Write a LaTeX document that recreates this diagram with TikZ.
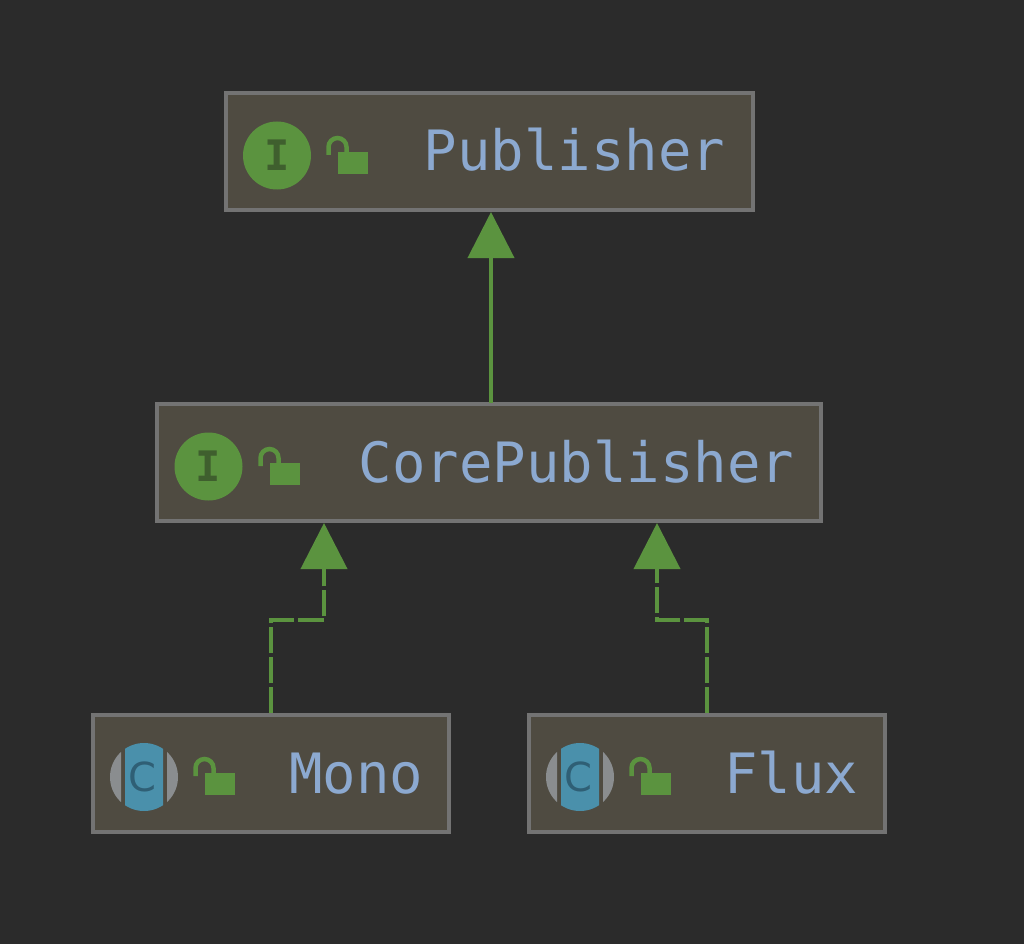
\documentclass[tikz,border=0pt]{standalone}
\usepackage{fontspec}
\usetikzlibrary{arrows.meta}
\newfontfamily\diagmono{DejaVu Sans Mono}
\newfontfamily\diagsans{DejaVu Sans}
\definecolor{bgdark}{HTML}{2B2B2B}
\definecolor{boxfill}{HTML}{4F4B41}
\definecolor{boxline}{HTML}{737373}
\definecolor{leaf}{HTML}{5B933F}
\definecolor{leafdark}{HTML}{3F5F2E}
\definecolor{classblue}{HTML}{4A90AB}
\definecolor{classdark}{HTML}{2F5F75}
\definecolor{bracketgrey}{HTML}{8A8D8F}
\definecolor{labelblue}{HTML}{8CA9D0}
\tikzset{
  x=1pt,y=-1pt,
  typebox/.style={draw=boxline,fill=boxfill,line width=3.5pt,minimum height=117pt,
    text width=#1,align=flush right,inner xsep=0pt,inner ysep=0pt,
    text height=39pt,text depth=0pt,text=labelblue,
    font=\diagmono\fontsize{55.6}{60}\selectfont},
  extends/.style={draw=leaf,line width=4pt,-{Triangle[length=46pt,width=46pt]}},
  implements/.style={extends,dash pattern=on 26pt off 4pt},
  iconletter/.style={inner sep=0pt,font=\diagmono\bfseries\fontsize{42}{46}\selectfont},
  classletter/.style={inner sep=0pt,font=\diagsans\fontsize{40}{44}\selectfont},
  pics/lockicon/.style={code={
    \fill[leaf] (0,0) rectangle (30,22);
    \draw[leaf,line width=4.5pt] (-9.5,3) -- (-9.5,-5) arc[start angle=180,end angle=0,radius=9pt] -- (8.5,0);
  }},
  pics/ifaceicon/.style={code={
    \fill[leaf] (0,0) circle[radius=34pt];
    \node[iconletter,text=leafdark] (-letter) at (0,0) {I};
  }},
  pics/classicon/.style={code={
    \begin{scope}
      \clip (-19,-40) rectangle (19,40);
      \fill[classblue] (0,0) circle[radius=34pt];
    \end{scope}
    \begin{scope}
      \clip (-40,-40) rectangle (-23,40) (23,-40) rectangle (40,40);
      \fill[bracketgrey] (0,0) circle[radius=34pt];
    \end{scope}
    \node[classletter,text=classdark] (-letter) at (-2,0) {C};
  }}
}
\begin{document}
\begin{tikzpicture}
\useasboundingbox (0,0) rectangle (1024,944);
\fill[bgdark] (0,0) rectangle (1024,944);

\node[typebox=471pt,minimum width=527pt] (pub) at (489.5,151.5) {Publisher};
\node[typebox=610pt,minimum width=664pt] (core) at (489,462.5) {CorePublisher};
\node[typebox=304pt,minimum width=356pt] (mono) at (271,773.5) {Mono};
\node[typebox=302pt,minimum width=356pt] (flux) at (707,773.5) {Flux};

\path (277,155.5) pic (pubi) {ifaceicon};
\path (338,152) pic (publ) {lockicon};
\path (208.5,466.5) pic (corei) {ifaceicon};
\path (270,463) pic (corel) {lockicon};
\path (144,777) pic (monoc) {classicon};
\path (205,773) pic (monol) {lockicon};
\path (580,777) pic (fluxc) {classicon};
\path (641,773) pic (fluxl) {lockicon};

\coordinate (pubin) at (491,212);
\coordinate (corefrom) at (491,403);
\coordinate (coreinl) at (324,523);
\coordinate (coreinr) at (657,523);
\coordinate (monobend) at (324,620);
\coordinate (fluxbend) at (657,620);

\draw[extends] (corefrom) -- (pubin);
\draw[implements] (mono.north) |- (monobend) -- (coreinl);
\draw[implements] (flux.north) |- (fluxbend) -- (coreinr);
\end{tikzpicture}
\end{document}
